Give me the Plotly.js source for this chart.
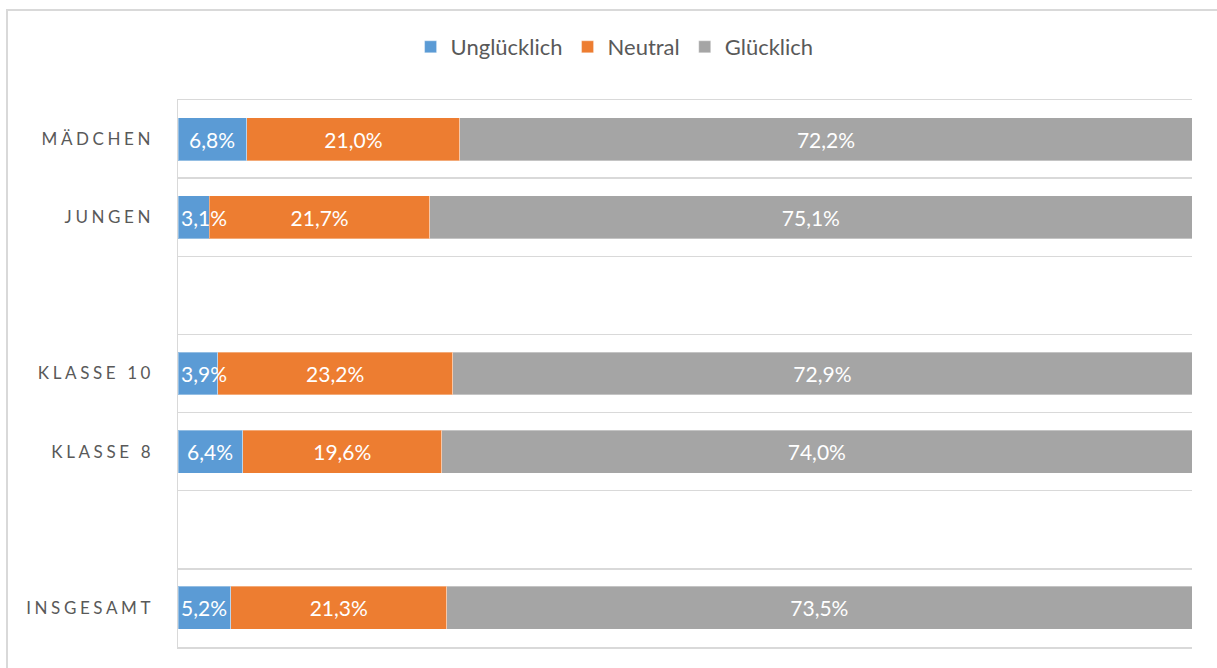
<!DOCTYPE html>
<html>
<head>
<meta charset="utf-8">
<script src="https://cdn.plot.ly/plotly-3.0.1.min.js"></script>
<style>
  html, body { margin: 0; padding: 0; background: #ffffff; overflow: hidden; }
  #frame { position: absolute; left: 6px; top: 9px; width: 1400px; height: 900px;
           border: 2px solid #d9d9d9; z-index: 0; }
  #chart { position: absolute; left: 0; top: 0; width: 1217px; height: 668px; z-index: 1; }
  #chart .ytick text { letter-spacing: 3.6px; }
</style>
</head>
<body>
<div id="frame"></div>
<div id="chart"></div>
<script>
// Data (percent)
var categories = ["MÄDCHEN", "JUNGEN", " ", "KLASSE 10", "KLASSE 8", "  ", "INSGESAMT"];
var unhappy = [6.8, 3.1, null, 3.9, 6.4, null, 5.2];
var neutral = [21.0, 21.7, null, 23.2, 19.6, null, 21.3];
var happy   = [72.2, 75.1, null, 72.9, 74.0, null, 73.5];
var seriesNames = ["Unglücklich", "Neutral", "Glücklich"];
var seriesColors = ["#5b9bd5", "#ed7d31", "#a5a5a5"];

var labelFont = { family: "Lato, 'Open Sans', sans-serif", size: 21, color: "#ffffff" };

function fmt(v) {
  return v === null ? "" : v.toFixed(1).replace(".", ",") + "%";
}

var seriesValues = [unhappy, neutral, happy];
var traces = seriesValues.map(function (vals, i) {
  var t = {
    type: "bar",
    orientation: "h",
    name: seriesNames[i],
    y: categories,
    x: vals,
    marker: { color: seriesColors[i], line: { color: "rgba(255,255,255,0.35)", width: 1 } },
    hoverinfo: "skip"
  };
  if (i > 0) {
    t.text = vals.map(fmt);
    t.texttemplate = "%{text}";
    t.textposition = "inside";
    t.textangle = 0;
    t.insidetextanchor = "middle";
    t.constraintext = "none";
    t.textfont = labelFont;
  }
  return t;
});

// Labels of the narrow first segment: drawn on top (like Excel, they may overflow
// into the next segment but never start before the axis).
var annotations = [];
unhappy.forEach(function (v, k) {
  if (v === null) return;
  annotations.push({
    xref: "x", yref: "y",
    x: Math.max(v / 2, 2.6),
    y: categories[k],
    text: fmt(v),
    showarrow: false,
    xanchor: "center",
    yanchor: "middle",
    font: labelFont
  });
});

var layout = {
  width: 1217,
  height: 668,
  margin: { l: 178, r: 25, t: 100, b: 21, pad: 0 },
  paper_bgcolor: "rgba(0,0,0,0)",
  plot_bgcolor: "rgba(0,0,0,0)",
  barmode: "stack",
  barnorm: "percent",
  bargap: 0.45,
  font: { family: "Lato, 'Open Sans', sans-serif", color: "#595959" },
  showlegend: true,
  legend: {
    orientation: "h",
    xref: "container",
    x: 0.505,
    xanchor: "center",
    yref: "container",
    y: 1 - 47 / 668,
    yanchor: "middle",
    traceorder: "normal",
    font: { size: 22, color: "#595959" },
    itemwidth: 30,
    bgcolor: "rgba(0,0,0,0)"
  },
  annotations: annotations,
  xaxis: {
    range: [0, 100],
    showticklabels: false,
    ticks: "",
    showgrid: false,
    zeroline: false,
    showline: true,
    mirror: true,
    linecolor: "#d9d9d9",
    linewidth: 1.5,
    fixedrange: true
  },
  yaxis: {
    type: "category",
    categoryorder: "array",
    categoryarray: categories,
    range: [6.5, -0.5],
    tickson: "boundaries",
    ticks: "",
    showgrid: true,
    gridcolor: "#d9d9d9",
    gridwidth: 1.5,
    showline: true,
    linecolor: "#d9d9d9",
    linewidth: 1.5,
    ticklabelstandoff: 19,
    tickfont: { size: 17, color: "#595959" },
    fixedrange: true
  }
};

Plotly.newPlot("chart", traces, layout, { displayModeBar: false, staticPlot: true });
</script>
</body>
</html>
